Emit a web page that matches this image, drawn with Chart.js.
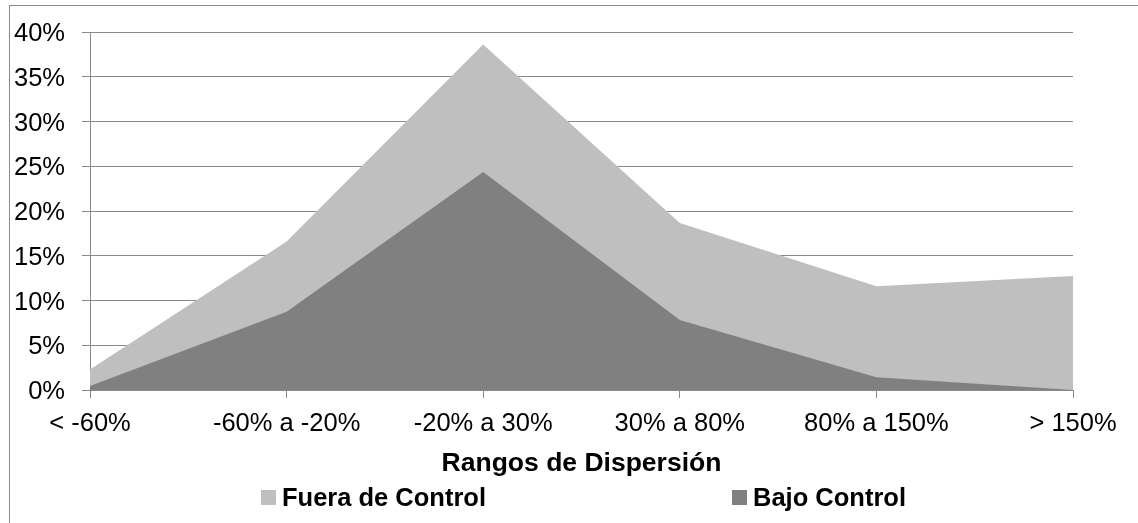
<!DOCTYPE html>
<html>
<head>
<meta charset="utf-8">
<script src="https://cdn.jsdelivr.net/npm/chart.js@4"></script>
<style>
  html, body { margin: 0; padding: 0; background: #fff; }
  #wrap { position: relative; width: 1138px; height: 523px; overflow: hidden; }
  #frame { position: absolute; left: 9px; top: 5px; width: 1300px; height: 700px;
           border-left: 1.5px solid #8c8c8c; border-top: 1.5px solid #8c8c8c; }
  canvas { position: absolute; left: 0; top: 0; }
</style>
</head>
<body>
<div id="wrap">
  <div id="frame"></div>
  <canvas id="chart" width="1138" height="523"></canvas>
</div>
<script>
// Rangos de dispersión (eje X)
const categories = ['< -60%', '-60% a -20%', '-20% a 30%', '30% a 80%', '80% a 150%', '> 150%'];

// Porcentaje de casos por rango
const fueraDeControl = [2.3, 16.6, 38.6, 18.65, 11.6, 12.75];
const bajoControl = [0.45, 8.75, 24.35, 7.83, 1.42, 0];

// Eje Y
const yMin = 0;
const yMax = 40;
const yStep = 5;

const FONT = '"Liberation Sans", Arial, Helvetica, sans-serif';
const FONT_SIZE = 25.5;
const GRID = '#898989';

// Leyenda en dos columnas bajo el título del eje
const seriesLegend = {
  id: 'seriesLegend',
  afterDraw(chart, args, opts) {
    const ctx = chart.ctx;
    ctx.save();
    ctx.font = 'bold ' + FONT_SIZE + 'px ' + FONT;
    ctx.textBaseline = 'middle';
    ctx.textAlign = 'left';
    opts.items.forEach(it => {
      const ds = chart.data.datasets[it.dataset];
      ctx.fillStyle = ds.backgroundColor;
      ctx.fillRect(it.x, opts.y - 7.5, 15, 15);
      ctx.fillStyle = '#000';
      ctx.fillText(ds.label, it.x + 21, opts.y + 1);
    });
    ctx.restore();
  }
};

new Chart(document.getElementById('chart'), {
  type: 'line',
  data: {
    labels: categories,
    datasets: [
      {
        label: 'Fuera de Control',
        data: fueraDeControl,
        backgroundColor: '#bfbfbf',
        borderWidth: 0,
        pointRadius: 0,
        tension: 0,
        fill: 'origin',
        order: 1
      },
      {
        label: 'Bajo Control',
        data: bajoControl,
        backgroundColor: '#808080',
        borderWidth: 0,
        pointRadius: 0,
        tension: 0,
        fill: 'origin',
        order: 0
      }
    ]
  },
  options: {
    responsive: false,
    animation: false,
    devicePixelRatio: 1,
    layout: { padding: { top: 32, bottom: 43, left: 0, right: 0 } },
    plugins: {
      legend: { display: false },
      tooltip: { enabled: false },
      seriesLegend: {
        y: 497.5,
        items: [ { dataset: 0, x: 261 }, { dataset: 1, x: 732 } ]
      }
    },
    scales: {
      x: {
        offset: false,
        grid: { display: true, drawOnChartArea: false, drawTicks: true, tickLength: 8, color: GRID, lineWidth: 1 },
        border: { display: true, color: GRID, width: 1 },
        ticks: { color: '#000', font: { family: FONT, size: FONT_SIZE }, padding: 11, maxRotation: 0, autoSkip: false },
        title: {
          display: true,
          text: 'Rangos de Dispersión',
          color: '#000',
          font: { family: FONT, size: 26.5, weight: 'bold' },
          padding: { top: 4, bottom: 0 }
        },
        afterFit(scale) {
          scale.height = 90;
          scale.paddingRight = 65;
        }
      },
      y: {
        min: yMin,
        max: yMax,
        grid: { color: GRID, lineWidth: 1, tickLength: 8, drawTicks: true },
        border: { display: true, color: GRID, width: 1 },
        ticks: {
          stepSize: yStep,
          color: '#000',
          font: { family: FONT, size: FONT_SIZE },
          padding: 17,
          labelOffset: 2,
          callback: v => v + '%'
        },
        afterFit(scale) {
          scale.width = 90;
          scale.paddingTop = 0;
          scale.paddingBottom = 0;
        }
      }
    }
  },
  plugins: [seriesLegend]
});
</script>
</body>
</html>
